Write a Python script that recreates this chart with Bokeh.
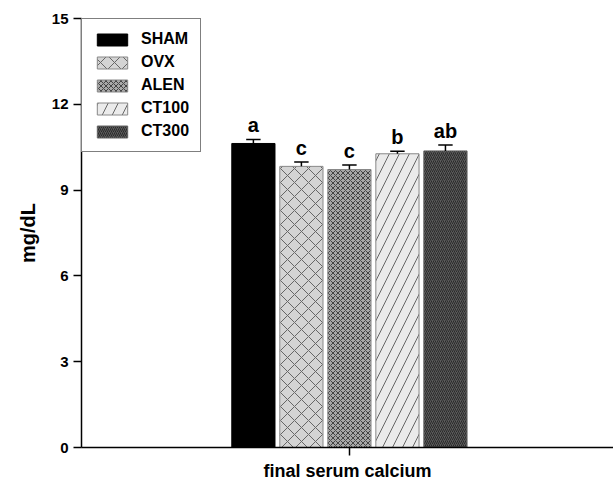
from bokeh.plotting import figure
from bokeh.models import Range1d, FixedTicker, Legend, LegendItem, ColumnDataSource
from bokeh.core.properties import value
from bokeh.embed import file_html
from bokeh.resources import INLINE

groups = ["SHAM", "OVX", "ALEN", "CT100", "CT300"]
means = [10.63, 9.83, 9.72, 10.27, 10.37]
errs = [0.14, 0.15, 0.16, 0.09, 0.21]
letters = ["a", "c", "c", "b", "ab"]
positions = [-2, -1, 0, 1, 2]
y_ticks = [0, 3, 6, 9, 12, 15]
x_label = "final serum calcium"
y_label = "mg/dL"

fills = ["#000000", "#d4d4d4", "#a8a8a8", "#ebebeb", "#5a5a5a"]
hatches = [None, "diagonal_cross", "diagonal_cross", "right_diagonal_line", "right_diagonal_line"]
hatch_colors = [None, "#666666", "#444444", "#666666", "#2a2a2a"]
hatch_scales = [12, 14, 5, 20, 4]
lines = ["#000000", "#888888", "#888888", "#888888", "#666666"]

FONT = "Liberation Sans"

p = figure(width=613, height=483, output_backend="svg", toolbar_location=None,
           x_range=Range1d(-5.58, 5.5), y_range=Range1d(0, 15),
           min_border_left=81, min_border_right=0, min_border_top=18, min_border_bottom=36)
p.grid.visible = False
p.outline_line_color = None
p.background_fill_color = "white"

renderers = []
for i in range(5):
    kw = dict(x=[positions[i]], top=[means[i]], bottom=0, width=0.9,
              fill_color=fills[i], line_color=lines[i], line_width=1)
    if hatches[i]:
        kw.update(hatch_pattern=hatches[i], hatch_color=hatch_colors[i],
                  hatch_scale=hatch_scales[i], hatch_weight=1)
    r = p.vbar(**kw)
    renderers.append(r)

tops = [m + e for m, e in zip(means, errs)]
p.segment(x0=positions, y0=means, x1=positions, y1=tops, line_color="black", line_width=1.5)
p.segment(x0=[x - 0.15 for x in positions], y0=tops, x1=[x + 0.15 for x in positions], y1=tops,
          line_color="black", line_width=1.5)

src = ColumnDataSource(dict(x=positions, y=tops, t=letters))
p.text(x="x", y="y", text="t", source=src, text_align="center", text_baseline="bottom",
       y_offset=-3, text_font=value(FONT), text_font_style="bold", text_font_size="20px",
       text_color="black")

legend = Legend(items=[LegendItem(label=g, renderers=[r]) for g, r in zip(groups, renderers)],
                location="top_left", margin=0, padding=11,
                border_line_color="black", border_line_width=1.5,
                label_text_font=FONT, label_text_font_style="bold", label_text_font_size="16px",
                label_text_color="black",
                glyph_width=38, glyph_height=15, label_height=15, spacing=5,
                label_standoff=10, background_fill_alpha=1)
p.add_layout(legend)

p.yaxis.ticker = FixedTicker(ticks=y_ticks)
p.yaxis.major_tick_out = 8
p.yaxis.major_tick_in = 0
p.yaxis.minor_tick_line_color = None
p.yaxis.axis_line_width = 1.5
p.yaxis.major_tick_line_width = 1.5
p.yaxis.major_label_text_font = FONT
p.yaxis.major_label_text_font_style = "bold"
p.yaxis.major_label_text_font_size = "15px"
p.yaxis.major_label_text_color = "black"
p.yaxis.major_label_standoff = 5
p.yaxis.axis_label = y_label
p.yaxis.axis_label_text_font = FONT
p.yaxis.axis_label_text_font_style = "bold"
p.yaxis.axis_label_text_font_size = "20px"
p.yaxis.axis_label_text_color = "black"
p.yaxis.axis_label_standoff = 10

p.xaxis.ticker = FixedTicker(ticks=[0])
p.xaxis.major_label_overrides = {0: ""}
p.xaxis.major_label_text_font_size = "1px"
p.xaxis.major_label_standoff = 0
p.xaxis.major_tick_out = 8
p.xaxis.major_tick_in = 0
p.xaxis.minor_tick_line_color = None
p.xaxis.axis_line_width = 1.5
p.xaxis.major_tick_line_width = 1.5
p.xaxis.axis_label = x_label
p.xaxis.axis_label_text_font = FONT
p.xaxis.axis_label_text_font_style = "bold"
p.xaxis.axis_label_text_font_size = "18px"
p.xaxis.axis_label_text_color = "black"
p.xaxis.axis_label_standoff = 5

open("out.html", "w").write(file_html(p, INLINE))
